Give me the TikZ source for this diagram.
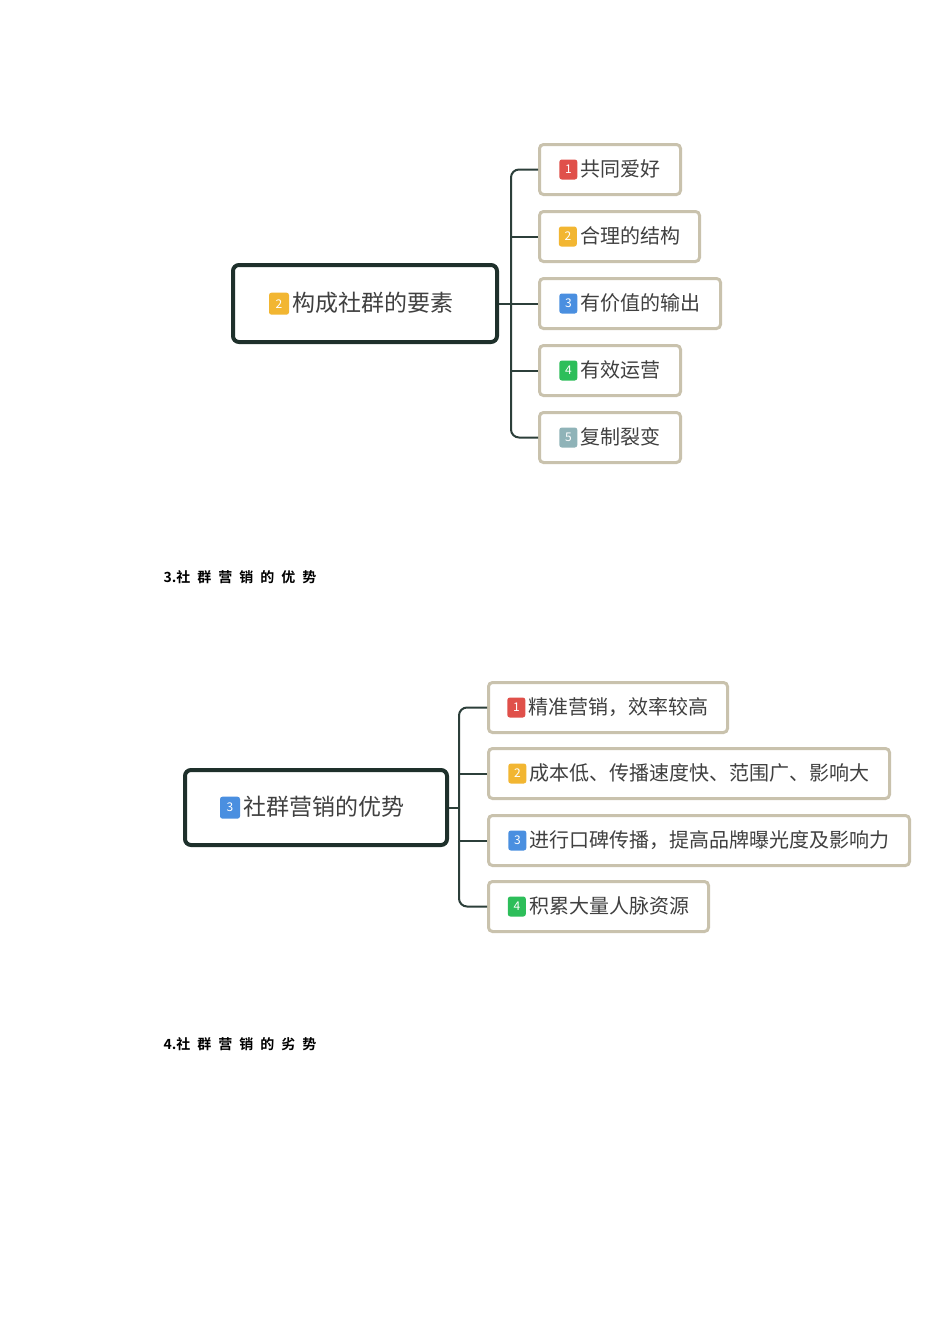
\documentclass[tikz,border=0pt]{standalone}
\usepackage{fontspec}
\setmainfont{Noto Sans CJK SC}
\newfontfamily\cjkb[BoldFont={Noto Sans CJK SC Bold}]{Noto Sans CJK SC}
\definecolor{rootc}{HTML}{1E302B}
\definecolor{childc}{HTML}{C9C2AD}
\definecolor{linec}{HTML}{2C3F3A}
\definecolor{bred}{HTML}{E0504A}
\definecolor{byel}{HTML}{F2B632}
\definecolor{bblue}{HTML}{4A8FE0}
\definecolor{bgreen}{HTML}{2DBE5A}
\definecolor{bgray}{HTML}{8FB3B8}
\newcommand{\bdg}[3][18pt]{\tikz[x=1pt,y=1pt,baseline={([yshift=-0.35em]bb.center)}]\node[fill=#2,rounded corners=2.5pt,text=white,font=\fontsize{12}{12}\selectfont,minimum width=#1,minimum height=#1+2pt,inner sep=0pt] (bb) {#3};}
\tikzset{
 rootbox/.style={draw=rootc,line width=4pt,rounded corners=6pt,fill=white,anchor=north west,align=left,font=\fontsize{23}{23}\selectfont,text=black!75},
 childbox/.style={draw=childc,line width=3pt,rounded corners=4pt,fill=white,anchor=north west,minimum height=50pt,inner xsep=7pt,font=\fontsize{20}{20}\selectfont,text=black!75},
 conn/.style={draw=linec,line width=2pt,rounded corners=8pt},
 head/.style={anchor=west,font=\cjkb\bfseries\fontsize{14}{14}\selectfont}
}
\begin{document}
\begin{tikzpicture}[x=1pt,y=-1pt]
\useasboundingbox (0,0) rectangle (950,1344);
% diagram 1
\node[rootbox,text width=212pt,inner xsep=26pt,minimum height=77pt] (r1) at (231,263) {\hspace*{10pt}\bdg[20pt]{byel}{2}\,构成社群的要素};
\node[childbox,minimum width=141pt] (a1) at (538,143) {\bdg{bred}{1}\,共同爱好};
\node[childbox,minimum width=160pt] (a2) at (538,210) {\bdg{byel}{2}\,合理的结构};
\node[childbox,minimum width=181pt] (a3) at (538,277) {\bdg{bblue}{3}\,有价值的输出};
\node[childbox,minimum width=141pt] (a4) at (538,344) {\bdg{bgreen}{4}\,有效运营};
\node[childbox,minimum width=141pt] (a5) at (538,411) {\bdg{bgray}{5}\,复制裂变};
\coordinate (t1) at ([xshift=12pt]r1.east);
\draw[conn] (r1.east) -- (t1);
\draw[conn] (a1.west) -| (t1) |- (a5.west);
\foreach \c in {a2,a3,a4}
  \draw[conn] (t1 |- \c.west) -- (\c.west);
% heading
\node[head] (h3) at (160,577) {3.社\,\,\,群\,\,\,营\,\,\,销\,\,\,的\,\,\,优\,\,\,势};
% diagram 2
\node[rootbox,text width=212pt,inner xsep=25pt,minimum height=75pt] (r2) at (183,768) {\hspace*{10pt}\bdg[20pt]{bblue}{3}\,社群营销的优势};
\node[childbox,minimum width=239pt] (b1) at (487,681) {\bdg{bred}{1}\,精准营销，效率较高};
\node[childbox,minimum width=401pt] (b2) at (487,747) {\bdg{byel}{2}\,成本低、传播速度快、范围广、影响大};
\node[childbox,minimum width=421pt] (b3) at (487,814) {\bdg{bblue}{3}\,进行口碑传播，提高品牌曝光度及影响力};
\node[childbox,minimum width=220pt] (b4) at (487,880) {\bdg{bgreen}{4}\,积累大量人脉资源};
\coordinate (t2) at ([xshift=10pt]r2.east);
\draw[conn] (r2.east) -- (t2);
\draw[conn] (b1.west) -| (t2) |- (b4.west);
\foreach \c in {b2,b3}
  \draw[conn] (t2 |- \c.west) -- (\c.west);
\node[head] (h4) at (160,1044) {4.社\,\,\,群\,\,\,营\,\,\,销\,\,\,的\,\,\,劣\,\,\,势};
\end{tikzpicture}
\end{document}
